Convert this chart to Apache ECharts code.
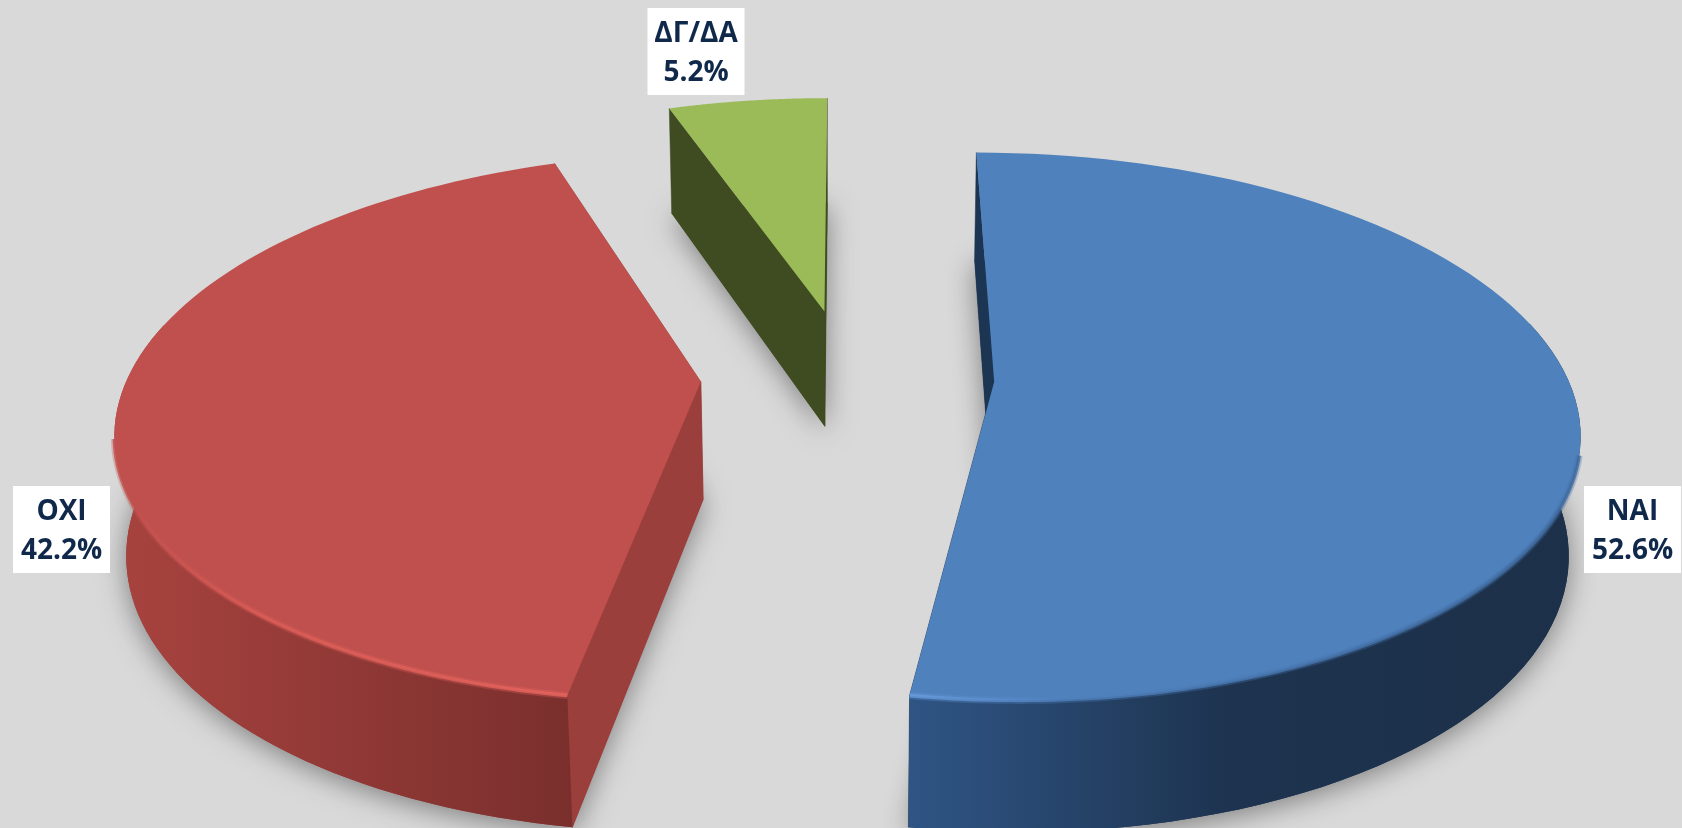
<!DOCTYPE html>
<html><head><meta charset="utf-8">
<style>html,body{margin:0;padding:0;background:#d9d9d9}#c{width:1682px;height:828px}</style>
<script src="https://cdn.jsdelivr.net/npm/echarts@6/dist/echarts.min.js"></script>
</head><body><div id="c"></div>
<script>
const categories = ['ΝΑΙ', 'ΟΧΙ', 'ΔΓ/ΔΑ'];
const percentValues = [52.6, 42.2, 5.2];

// camera model of the tilted pie
const CX = 847.5, CY = 382, SX = 575, SY = 266.8, PERSP = 0.1416, DEPTH = 120, DEPTH_PERSP = 0.016;
const EXPLODE = 0.256, START_DEG = 0, APEX_LIFT = 0.022;
const BOX_W = 97, BOX_H = 87;
const looks = [
  {top:'#4f81bd', face:'#1c3553', wall:[[908,'#2f5585'],[1230,'#1d334f'],[1580,'#1d3049']],
   rim:[[908,'#6a9ee0'],[1060,'#4f81bd'],[1582,'#3f6a9e']], rimTo:0.45, box:[1632.5,529.5]},
  {top:'#c0504d', face:'#9a3f3b', wall:[[113,'#a8433f'],[570,'#7a2f2d']],
   rim:[[125,'#c0504d'],[260,'#dc5d58'],[570,'#e8655f']], rimTo:0.46, box:[61.5,529.5]},
  {top:'#9bbb59', face:'#3f4b20', wall:[[670,'#3f4b20'],[830,'#3f4b20']], rim:null, rimTo:0, box:[696,51.5]}
];
function project(X, Y, z) {
  const w = 1 + PERSP * Y + DEPTH_PERSP * z;
  return [CX + SX * X / w, CY + (-SY * Y + DEPTH * z) / w];
}
function gradient(stops) {
  const a = stops[0][0], b = stops[stops.length - 1][0];
  return {type:'linear', x:a, y:0, x2:b, y2:0, global:true,
    colorStops:stops.map(s => ({offset:(s[0] - a) / (b - a), color:s[1]}))};
}
function sliceGeom(i) {
  const total = percentValues.reduce((a, b) => a + b, 0);
  let acc = 0;
  for (let j = 0; j < i; j++) acc += percentValues[j];
  const a0 = (START_DEG + acc / total * 360) * Math.PI / 180;
  const a1 = a0 + percentValues[i] / total * 2 * Math.PI;
  const mid = (a0 + a1) / 2;
  const ex = EXPLODE * Math.sin(mid), ey = EXPLODE * Math.cos(mid);
  const arc = (z, from, to) => {
    const pts = [], n = 90;
    for (let k = 0; k <= n; k++) {
      const t = from + (to - from) * k / n;
      pts.push(project(ex + Math.sin(t), ey + Math.cos(t), z));
    }
    return pts;
  };
  return {a0, a1, arc, apex: z => project(ex, ey + APEX_LIFT, z)};
}
function renderItem(params, api) {
  const i = params.dataIndex, g = sliceGeom(i), L = looks[i];
  const topArc = g.arc(0, g.a0, g.a1), botArc = g.arc(1, g.a0, g.a1);
  const n = topArc.length - 1;
  const kids = [];
  kids.push({type:'polygon', shape:{points:[g.apex(1)].concat(botArc)},
    style:{fill:L.face, shadowBlur:28, shadowColor:'rgba(0,0,0,0.42)', shadowOffsetY:5}});
  kids.push({type:'polygon', shape:{points:[g.apex(0), g.apex(1), botArc[0], topArc[0]]}, style:{fill:L.face, stroke:L.face, lineWidth:0.5}});
  kids.push({type:'polygon', shape:{points:[g.apex(0), g.apex(1), botArc[n], topArc[n]]}, style:{fill:L.face, stroke:L.face, lineWidth:0.5}});
  // outer wall: only the part that faces the viewer
  const FRONT = 0.25;
  const isFront = k => Math.cos(g.a0 + (g.a1 - g.a0) * k / n) < FRONT;
  const wt = topArc.filter((p, k) => isFront(k)), wb = botArc.filter((p, k) => isFront(k));
  if (wt.length > 1) {
    kids.push({type:'polygon', shape:{points:wt.concat(wb.slice().reverse())}, style:{fill:gradient(L.wall)}});
  }
  kids.push({type:'polygon', shape:{points:[g.apex(0)].concat(topArc)}, style:{fill:L.top}});
  if (L.rim) {
    const span = (g.a1 - g.a0) * L.rimTo;
    const from = i === 0 ? g.a1 : g.a0, to = i === 0 ? g.a1 - span : g.a0 + span;
    const rimPts = g.arc(0, from, to);
    kids.push({type:'polyline', shape:{points:rimPts},
      style:{fill:'none', stroke:gradient(L.rim), lineWidth:7, opacity:0.3}});
    kids.push({type:'polyline', shape:{points:rimPts},
      style:{fill:'none', stroke:gradient(L.rim), lineWidth:3.5, opacity:0.8}});
  }
  kids.push({type:'rect', z2:49, shape:{x:L.box[0] - BOX_W / 2, y:L.box[1] - BOX_H / 2, width:BOX_W, height:BOX_H},
    style:{fill:'#ffffff'}});
  kids.push({type:'text', z2:50, style:{
    text: categories[i] + '\n' + percentValues[i].toFixed(1) + '%',
    x:L.box[0], y:L.box[1] + 2, align:'center', verticalAlign:'middle',
    font:'bold 28px "Open Sans"', lineHeight:39, fill:'#10294b'}});
  return {type:'group', children:kids};
}
const chart = echarts.init(document.getElementById('c'), null, {renderer:'canvas'});
chart.setOption({
  animation:false,
  backgroundColor:'#d9d9d9',
  series:[{type:'custom', coordinateSystem:'none', renderItem, silent:true,
    data:percentValues.map((v, i) => ({name:categories[i], value:v}))}]
});
</script></body></html>
